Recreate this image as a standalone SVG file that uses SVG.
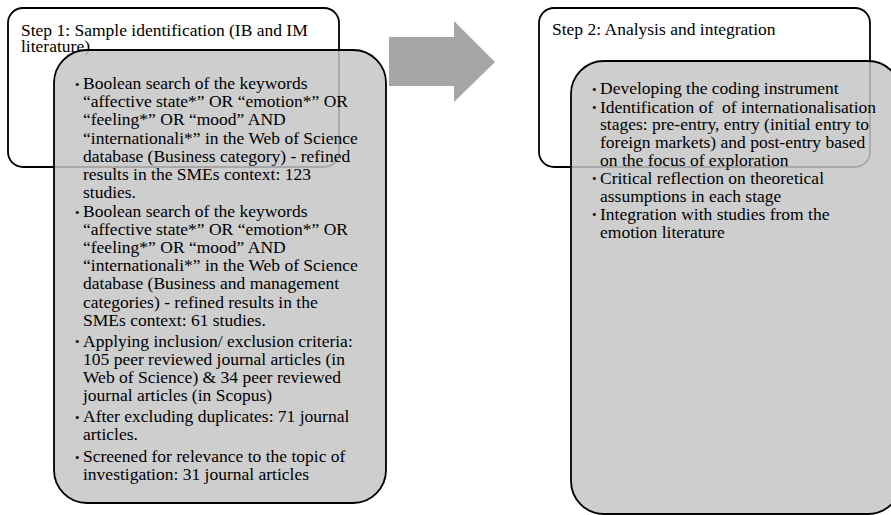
<svg xmlns="http://www.w3.org/2000/svg" width="891" height="515" viewBox="0 0 891 515">
<style>
.white{fill:#ffffff;stroke:#000000;stroke-width:1.8}
.grey{fill:#c6c6c6;fill-opacity:0.85;stroke:#000000;stroke-width:1.8}
.t{font-family:"Liberation Serif","Times New Roman",serif;font-size:17.5px;fill:#000000}
.b{font-family:"Liberation Serif","Times New Roman",serif;font-size:13px;fill:#000000}
.arrow{fill:#a6a6a6}
</style>
<rect width="891" height="515" fill="#ffffff"/>
<g id="step1-title">
<rect class="white" x="8" y="8" width="331" height="159" rx="15" ry="15"/>
<text class="t" x="21" y="36">Step 1: Sample identification (IB and IM</text>
<text class="t" x="21" y="51.5">literature)</text>
</g>
<g id="step1-details">
<rect class="grey" x="54" y="50" width="332" height="453" rx="33" ry="33"/>
<text class="b" x="75" y="88.5">•</text>
<text class="t" x="83" y="89">Boolean search of the keywords</text>
<text class="t" x="83" y="107.2">“affective state*” OR “emotion*” OR</text>
<text class="t" x="83" y="125.4">“feeling*” OR “mood” AND</text>
<text class="t" x="83" y="143.6">“internationali*” in the Web of Science</text>
<text class="t" x="83" y="161.8">database (Business category) - refined</text>
<text class="t" x="83" y="180">results in the SMEs context: 123</text>
<text class="t" x="83" y="198.2">studies.</text>
<text class="b" x="75" y="216.5">•</text>
<text class="t" x="83" y="217">Boolean search of the keywords</text>
<text class="t" x="83" y="235.1">“affective state*” OR “emotion*” OR</text>
<text class="t" x="83" y="253.2">“feeling*” OR “mood” AND</text>
<text class="t" x="83" y="271.3">“internationali*” in the Web of Science</text>
<text class="t" x="83" y="289.4">database (Business and management</text>
<text class="t" x="83" y="307.5">categories) - refined results in the</text>
<text class="t" x="83" y="325.6">SMEs context: 61 studies.</text>
<text class="b" x="75" y="346.2">•</text>
<text class="t" x="83" y="346.7">Applying inclusion/ exclusion criteria:</text>
<text class="t" x="83" y="364.8">105 peer reviewed journal articles (in</text>
<text class="t" x="83" y="382.9">Web of Science) &amp; 34 peer reviewed</text>
<text class="t" x="83" y="401">journal articles (in Scopus)</text>
<text class="b" x="75" y="421.5">•</text>
<text class="t" x="83" y="422">After excluding duplicates: 71 journal</text>
<text class="t" x="83" y="440">articles.</text>
<text class="b" x="75" y="461.5">•</text>
<text class="t" x="83" y="462">Screened for relevance to the topic of</text>
<text class="t" x="83" y="480">investigation: 31 journal articles</text>
</g>
<g id="connectors">
<polygon class="arrow" points="389,37 454,37 454,21 495,62 454,102 454,86 389,86"/>
</g>
<g id="step2-title">
<rect class="white" x="539" y="8" width="331" height="159" rx="15" ry="15"/>
<text class="t" x="552" y="35">Step 2: Analysis and integration</text>
</g>
<g id="step2-details">
<rect class="grey" x="571" y="61" width="330" height="453" rx="33" ry="33"/>
<text class="b" x="592" y="93.8">•</text>
<text class="t" x="600" y="94.3">Developing the coding instrument</text>
<text class="b" x="592" y="112.2">•</text>
<text class="t" x="600" y="112.7" xml:space="preserve">Identification of  of internationalisation</text>
<text class="t" x="600" y="130.3">stages: pre-entry, entry (initial entry to</text>
<text class="t" x="600" y="147.9">foreign markets) and post-entry based</text>
<text class="t" x="600" y="165.5">on the focus of exploration</text>
<text class="b" x="592" y="183.4">•</text>
<text class="t" x="600" y="183.9">Critical reflection on theoretical</text>
<text class="t" x="600" y="201.5">assumptions in each stage</text>
<text class="b" x="592" y="219.4">•</text>
<text class="t" x="600" y="219.9">Integration with studies from the</text>
<text class="t" x="600" y="237.5">emotion literature</text>
</g>
</svg>
